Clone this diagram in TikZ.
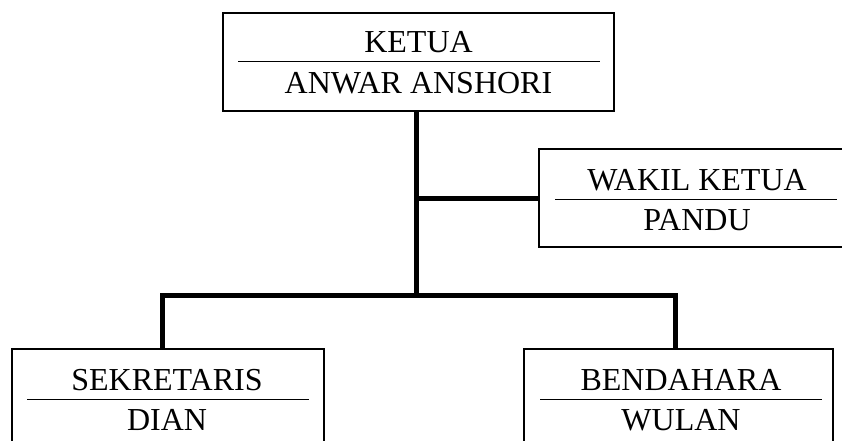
\documentclass[tikz,border=0pt]{standalone}
\usepackage{fontspec}
\setmainfont{Liberation Serif}
\begin{document}
\begin{tikzpicture}[x=1pt,y=-1pt,
  box/.style={draw, line width=1.3pt, inner sep=0pt, minimum height=98pt},
  lbl/.style={anchor=base, inner sep=0pt, font=\fontsize{32}{32}\selectfont},
  sep/.style={line width=1pt},
  conn/.style={line width=5pt, line join=miter}]
\useasboundingbox (0,0) rectangle (842,441);
\clip (0,0) rectangle (842,441);
% boxes
\node[box, minimum width=391pt] (top) at (418.5,62) {};
\node[box, minimum width=321pt] (wakil) at (699.5,198) {};
\node[box, minimum width=312pt] (sek) at (168,398) {};
\node[box, minimum width=309pt] (bend) at (678.5,398) {};
% texts
\node[lbl] (t1) at (418.5,53) {KETUA};
\node[lbl] (t2) at (418.5,94) {ANWAR ANSHORI};
\node[lbl] (w1) at (697,190) {WAKIL KETUA};
\node[lbl] (w2) at (697,230) {PANDU};
\node[lbl] (s1) at (167,390) {SEKRETARIS};
\node[lbl] (s2) at (167,430) {DIAN};
\node[lbl] (b1) at (681,390) {BENDAHARA};
\node[lbl] (b2) at (681,430) {WULAN};
% separators
\draw[sep] (238,62) -- (600,62);
\draw[sep] (555,199) -- (837,199);
\draw[sep] (27,399) -- (309,399);
\draw[sep] (540,399) -- (822,399);
% connectors
\coordinate (j1) at (416,198);
\coordinate (j2) at (416,295);
\coordinate (lb) at (162,295);
\coordinate (rb) at (675,295);
\draw[conn] (j1 |- top.south) -- (j2);
\draw[conn] (j1) -- (wakil.west);
\draw[conn] (lb |- sek.north) -- (lb) -- (rb) -- (rb |- bend.north);
\end{tikzpicture}
\end{document}
